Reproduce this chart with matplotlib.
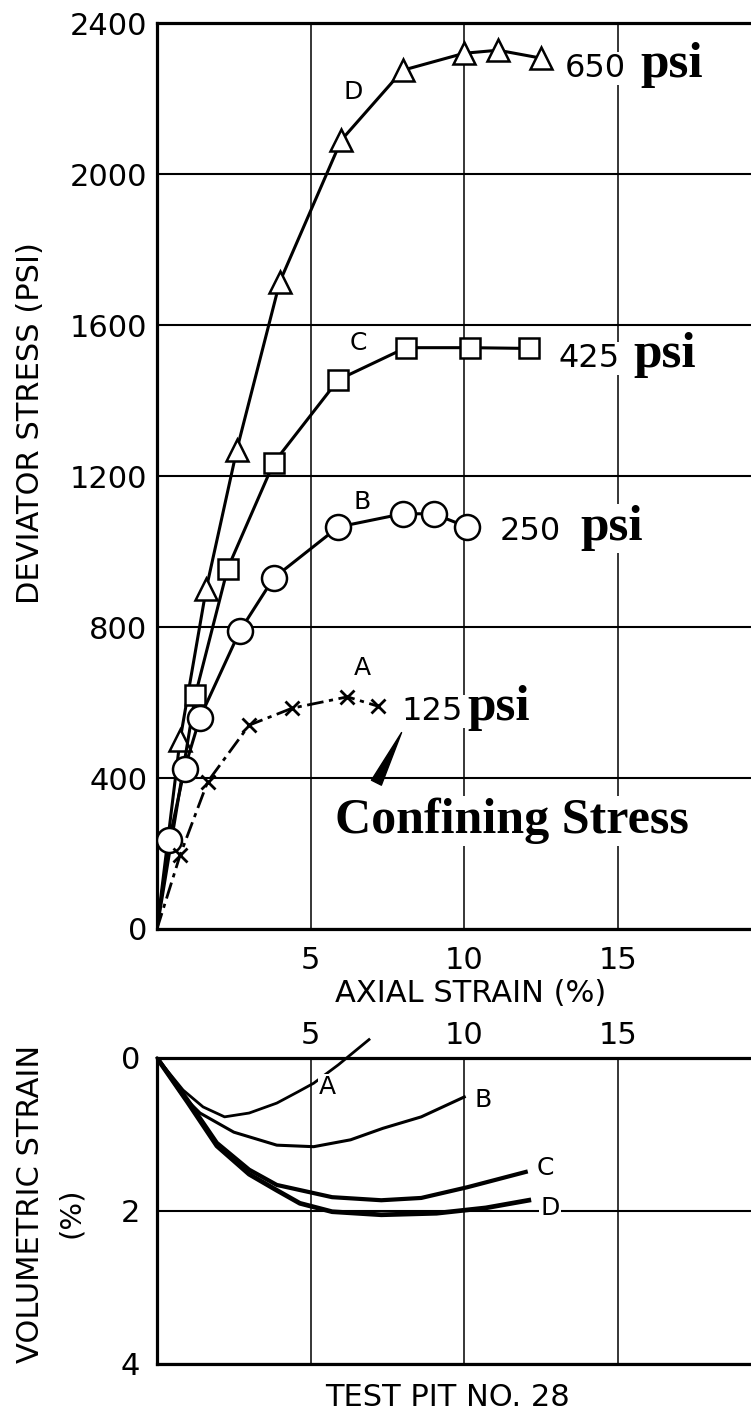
import matplotlib

matplotlib.use("Agg")
import matplotlib.pyplot as plt

# Triaxial tests, test pit 28: deviator stress vs axial strain
strain_a = [0.75, 1.65, 3.0, 4.4, 6.2, 7.2]
stress_a = [195, 390, 540, 585, 615, 590]
strain_b = [0.4, 0.9, 1.4, 2.7, 3.8, 5.9, 8.0, 9.0, 10.1]
stress_b = [235, 425, 560, 790, 930, 1065, 1100, 1100, 1065]
strain_c = [1.25, 2.3, 3.8, 5.9, 8.1, 10.2, 12.1]
stress_c = [620, 955, 1235, 1455, 1540, 1540, 1538]
strain_d = [0.75, 1.6, 2.6, 4.0, 6.0, 8.0, 10.0, 11.1, 12.5]
stress_d = [500, 900, 1270, 1715, 2090, 2275, 2320, 2328, 2307]

# volumetric strain vs axial strain (compression plotted downward)
vol_x_a = [0, 0.85, 1.5, 2.2, 3.0, 3.9, 4.6, 5.1, 5.9, 6.9]
vol_y_a = [0, 0.42, 0.64, 0.77, 0.72, 0.59, 0.44, 0.33, 0.09, -0.24]
vol_x_b = [0, 0.85, 1.4, 2.5, 3.9, 5.1, 6.3, 7.35, 8.6, 10.0]
vol_y_b = [0, 0.5, 0.72, 0.97, 1.14, 1.16, 1.07, 0.92, 0.77, 0.51]
vol_x_c = [0, 1.0, 1.95, 3.0, 3.9, 5.7, 7.3, 8.6, 10.1, 12.0]
vol_y_c = [0, 0.55, 1.11, 1.46, 1.66, 1.82, 1.86, 1.83, 1.69, 1.49]
vol_x_d = [0, 1.0, 1.95, 3.0, 3.9, 4.65, 5.7, 7.3, 9.1, 10.7, 12.1]
vol_y_d = [0, 0.58, 1.15, 1.52, 1.73, 1.9, 2.01, 2.05, 2.03, 1.96, 1.86]

confining = ["125", "250", "425", "650"]
stress_ticks = [0, 400, 800, 1200, 1600, 2000, 2400]
strain_ticks = [5, 10, 15]
vol_ticks = [0, 2, 4]

SANS = "DejaVu Sans"
SERIF = "Liberation Serif"
WHITE = dict(facecolor="white", edgecolor="none", pad=1)

fig = plt.figure(figsize=(7.51, 14.14), dpi=100)
ax = fig.add_axes([0.209, 0.343, 0.791, 0.6407])
ax2 = fig.add_axes([0.209, 0.0354, 0.791, 0.2164])

for a in (ax, ax2):
    a.spines["right"].set_visible(False)
    for s in ("left", "top", "bottom"):
        a.spines[s].set_linewidth(2.3)
    a.tick_params(length=0, labelsize=22)
    for lbl in a.get_xticklabels() + a.get_yticklabels():
        lbl.set_family(SANS)

# ---- upper panel ----
ax.set_xlim(0, 19.33)
ax.set_ylim(0, 2400)
ax.set_xticks(strain_ticks)
ax.set_yticks(stress_ticks)
ax.tick_params(axis="y", pad=7)
ax.tick_params(axis="x", pad=12)
ax.yaxis.grid(True, color="black", lw=1.5)
ax.xaxis.grid(True, color="black", lw=1.1)
ax.set_axisbelow(True)

mk = dict(color="black", lw=2.2, mfc="white", mec="black", mew=1.8)
ax.plot([0] + strain_d, [0] + stress_d, marker="^", ms=16,
        markevery=list(range(1, len(strain_d) + 1)), zorder=3, **mk)
ax.plot([0] + strain_c, [0] + stress_c, marker="s", ms=15,
        markevery=list(range(1, len(strain_c) + 1)), zorder=3, **mk)
ax.plot([0] + strain_b, [0] + stress_b, marker="o", ms=18,
        markevery=list(range(1, len(strain_b) + 1)), zorder=3, **mk)
ax.plot([0] + strain_a, [0] + stress_a, marker="x", ms=10,
        markevery=list(range(1, len(strain_a) + 1)), zorder=3,
        linestyle=(0, (6, 2, 1.5, 2)), color="black", lw=2.0, mew=2.0)

for letter, (x, y) in zip("DCBA", [(6.38, 2217), (6.54, 1552), (6.67, 1131), (6.67, 691)]):
    ax.text(x, y, letter, family=SANS, fontsize=18, ha="center", va="center")

# confining pressure tags: sans digits, serif unit
tag_pos = [(7.97, 10.09, 554), (11.16, 13.77, 1030), (13.05, 15.49, 1489), (13.28, 15.72, 2257)]
for val, (xn, xu, yb) in zip(confining, tag_pos):
    ax.text(xn, yb, val, family=SANS, fontsize=23, ha="left", va="baseline",
            bbox=WHITE, zorder=4)
    ax.text(xu, yb, "psi", family=SERIF, fontsize=37, fontweight="semibold",
            ha="left", va="baseline", bbox=WHITE, zorder=4)

ax.text(5.79, 254, "Confining Stress", family=SERIF, fontsize=36,
        fontweight="semibold", ha="left", va="baseline", bbox=WHITE, zorder=4)
ax.annotate("", xy=(8.0, 527), xytext=(7.1, 381),
            arrowprops=dict(arrowstyle="wedge,tail_width=0.8", color="black"),
            zorder=4)

# ---- lower panel ----
ax2.set_xlim(0, 19.33)
ax2.set_ylim(4, 0)
ax2.xaxis.tick_top()
ax2.set_xticks(strain_ticks)
ax2.set_yticks(vol_ticks)
ax2.tick_params(axis="y", pad=12)
ax2.tick_params(axis="x", pad=6)
ax2.yaxis.grid(True, color="black", lw=1.5)
ax2.xaxis.grid(True, color="black", lw=1.1)
ax2.set_axisbelow(True)

ax2.plot(vol_x_a, vol_y_a, color="black", lw=2.0, clip_on=False, zorder=3)
ax2.plot(vol_x_b, vol_y_b, color="black", lw=2.2, zorder=3)
ax2.plot(vol_x_c, vol_y_c, color="black", lw=3.0, zorder=3)
ax2.plot(vol_x_d, vol_y_d, color="black", lw=3.4, zorder=3)

for letter, (x, y) in zip("ABCD", [(5.56, 0.38), (10.6, 0.55), (12.63, 1.44), (12.79, 1.96)]):
    ax2.text(x, y, letter, family=SANS, fontsize=18, ha="center", va="center",
             bbox=WHITE, zorder=4)

# ---- axis titles ----
fig.text(0.040, 0.7009, "DEVIATOR STRESS (PSI)", family=SANS, fontsize=22,
         rotation=90, ha="center", va="center")
fig.text(0.627, 0.2977, "AXIAL STRAIN (%)", family=SANS, fontsize=22,
         ha="center", va="center")
fig.text(0.041, 0.1485, "VOLUMETRIC STRAIN", family=SANS, fontsize=22,
         rotation=90, ha="center", va="center")
fig.text(0.0945, 0.142, "(%)", family=SANS, fontsize=21,
         rotation=90, ha="center", va="center")
fig.text(0.5965, 0.012, "TEST PIT NO. 28", family=SANS, fontsize=22,
         ha="center", va="center")

fig.savefig("out.png", dpi=100)
plt.close(fig)
